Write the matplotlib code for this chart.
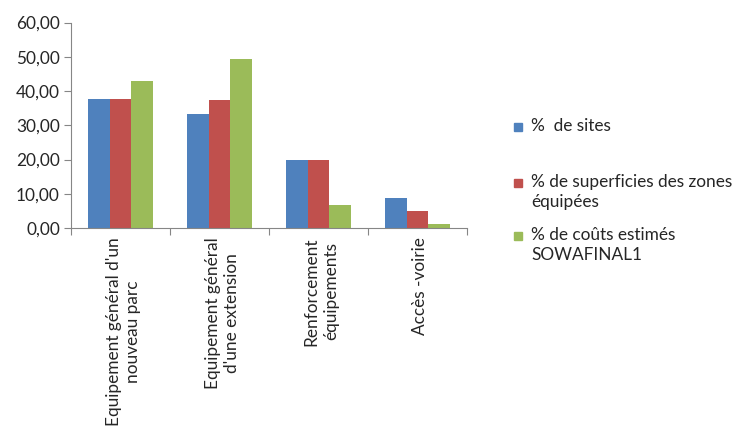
import numpy as np
import matplotlib.pyplot as plt
from matplotlib.patches import Rectangle

plt.rcParams['font.family'] = ['Lato', 'DejaVu Sans']

# Données du graphique
categories = ["Equipement général d'un\nnouveau parc",
              "Equipement général\nd'une extension",
              "Renforcement\néquipements",
              "Accès -voirie"]
series = ["%  de sites",
          "% de superficies des zones\néquipées",
          "% de coûts estimés\nSOWAFINAL1"]
sites = [37.7, 33.3, 19.9, 8.8]
superficies = [37.7, 37.5, 19.9, 5.1]
couts = [43.0, 49.4, 6.6, 1.2]
yticks = [0, 10, 20, 30, 40, 50, 60]

colors = ['#4F81BD', '#C0504D', '#9BBB59']
axis_color = '#868686'
txt_color = '#262626'
fs = 12.4

fig = plt.figure(figsize=(7.34, 4.30), dpi=100)
ax = fig.add_axes([71 / 734, 1 - 228 / 430, 396 / 734, 205.5 / 430])

x = np.arange(len(categories))
width = 0.222
for i, (vals, col) in enumerate(zip([sites, superficies, couts], colors)):
    ax.bar(x + (i - 1) * width, vals, width, color=col, linewidth=0)

ax.set_xlim(-0.5, len(categories) - 0.5)
ax.set_ylim(0, 60)
ax.set_yticks(yticks)
ax.set_yticklabels(['{:.2f}'.format(v).replace('.', ',') for v in yticks],
                   fontsize=fs, color=txt_color)

# graduations de l'axe X aux limites des catégories
ax.set_xticks(np.arange(len(categories) + 1) - 0.5)
ax.set_xticklabels([])
ax.tick_params(axis='x', length=5, color=axis_color, width=0.8)
ax.tick_params(axis='y', length=5, color=axis_color, width=0.8, pad=3)

for side in ['top', 'right']:
    ax.spines[side].set_visible(False)
for side in ['left', 'bottom']:
    ax.spines[side].set_color(axis_color)
    ax.spines[side].set_linewidth(0.8)

# étiquettes des catégories, verticales
for xi, lab in zip(x, categories):
    ax.text(xi + 0.03, -2.7, lab, rotation=90, ha='center', va='top',
            multialignment='center', fontsize=fs, color=txt_color,
            linespacing=1.3, transform=ax.transData, clip_on=False)

# légende à droite
leg_y = [126, 182, 235]
for ypix, lab, col in zip(leg_y, series, colors):
    fig.add_artist(Rectangle((514 / 734, 1 - (ypix + 4.5) / 430), 8 / 734, 8 / 430,
                             color=col, transform=fig.transFigure))
    fig.text(531 / 734, 1 - (ypix - 8) / 430, lab, ha='left', va='top',
             fontsize=fs, color=txt_color, linespacing=1.3)

fig.savefig('out.png', dpi=100)
